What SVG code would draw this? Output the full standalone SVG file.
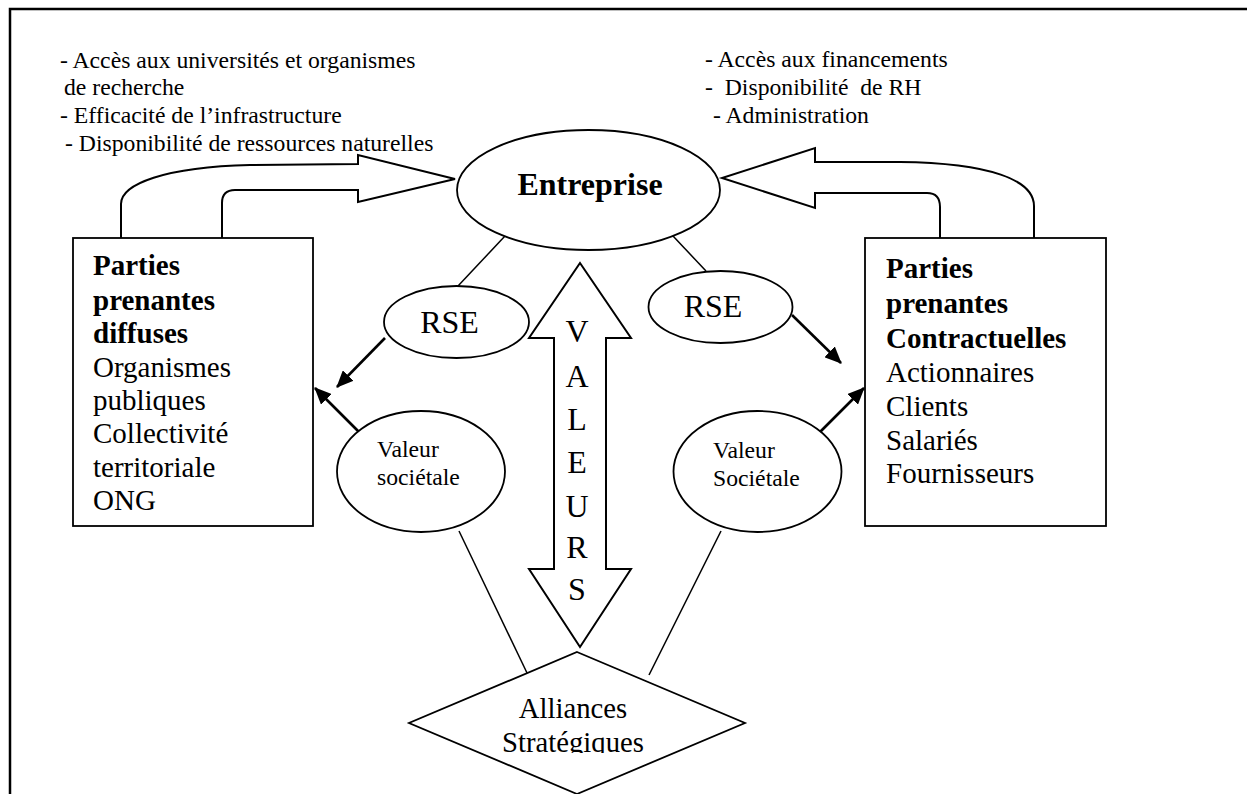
<svg xmlns="http://www.w3.org/2000/svg" width="1247" height="794" viewBox="0 0 1247 794">
<style>
text{font-family:"Liberation Serif","Times New Roman",serif;fill:#000}
.top{font-size:23.7px}
.box{font-size:29px}
.b{font-weight:bold}
.shape{fill:#fff;stroke:#000;stroke-width:1.8}
.ln{fill:none;stroke:#000;stroke-width:1.5}
.arr{fill:none;stroke:#000;stroke-width:2.6}
.blk{fill:#fff;stroke:#000;stroke-width:2}
</style>
<defs>
<marker id="ah" viewBox="0 0 17 15" refX="16" refY="7.5" markerWidth="17" markerHeight="15" markerUnits="userSpaceOnUse" orient="auto">
<path d="M0,0 L17,7.5 L0,15 z" fill="#000"/>
</marker>
<clipPath id="clipAll"><rect x="0" y="0" width="1247" height="753"/></clipPath>
</defs>
<rect width="1247" height="794" fill="#fff"/>
<path d="M10,794 V9 H1247" fill="none" stroke="#000" stroke-width="2.5"/>

<g id="texte-gauche" class="top">
<text x="60" y="68">- Accès aux universités et organismes</text>
<text x="64" y="95">de recherche</text>
<text x="60" y="123">- Efficacité de l’infrastructure</text>
<text x="65" y="151">- Disponibilité de ressources naturelles</text>
</g>
<g id="texte-droite" class="top">
<text x="705" y="67">- Accès aux financements</text>
<text x="705" y="95" xml:space="preserve">-  Disponibilité  de RH</text>
<text x="713" y="123">- Administration</text>
</g>

<g id="connecteurs">
<path class="blk" d="M121,238 V204 C121,184 165,167 250,165 L358,164 V155 L455,179 L358,202 V190 H235 Q222,190 222,203 V238"/>
<path class="blk" d="M1034,238 V206 C1034,180 990,163 900,162 L815,162 V148 L722,178 L815,208 V193 H927 Q940,193 940,207 V238"/>
<line class="ln" x1="505" y1="236" x2="458" y2="286"/>
<line class="ln" x1="673" y1="236" x2="706" y2="271"/>
<line class="ln" x1="459" y1="531" x2="528" y2="675"/>
<line class="ln" x1="721" y1="531" x2="649" y2="675"/>
<line class="arr" x1="385" y1="338" x2="337" y2="387" marker-end="url(#ah)"/>
<line class="arr" x1="362" y1="435" x2="315" y2="388" marker-end="url(#ah)"/>
<line class="arr" x1="792" y1="315" x2="841" y2="363" marker-end="url(#ah)"/>
<line class="arr" x1="817" y1="435" x2="864" y2="388" marker-end="url(#ah)"/>
</g>

<g id="entreprise">
<ellipse class="shape" cx="588.5" cy="190" rx="131.5" ry="60"/>
<text x="590" y="195" text-anchor="middle" class="b" font-size="32">Entreprise</text>
</g>

<g id="pp-diffuses">
<rect class="shape" x="73" y="238" width="240" height="288" stroke-width="2"/>
<g class="box">
<text x="93" y="275" class="b">Parties</text>
<text x="93" y="310" class="b">prenantes</text>
<text x="93" y="343" class="b">diffuses</text>
<text x="93" y="377">Organismes</text>
<text x="93" y="410">publiques</text>
<text x="93" y="443">Collectivité</text>
<text x="93" y="477">territoriale</text>
<text x="93" y="510">ONG</text>
</g>
</g>

<g id="pp-contractuelles">
<rect class="shape" x="865" y="238" width="241" height="288" stroke-width="2"/>
<g class="box">
<text x="886" y="278" class="b">Parties</text>
<text x="886" y="313" class="b">prenantes</text>
<text x="886" y="348" class="b">Contractuelles</text>
<text x="886" y="382">Actionnaires</text>
<text x="886" y="416">Clients</text>
<text x="886" y="450">Salariés</text>
<text x="886" y="483">Fournisseurs</text>
</g>
</g>

<g id="rse-gauche">
<ellipse class="shape" cx="456.5" cy="322" rx="72.5" ry="36"/>
<text x="449.5" y="333" text-anchor="middle" font-size="32">RSE</text>
</g>
<g id="rse-droite">
<ellipse class="shape" cx="720.5" cy="307" rx="72" ry="36"/>
<text x="713" y="317" text-anchor="middle" font-size="32">RSE</text>
</g>

<g id="valeur-gauche">
<ellipse class="shape" cx="421" cy="471.5" rx="84" ry="60.5"/>
<text x="377" y="457" font-size="23.7">Valeur</text>
<text x="377" y="485" font-size="23.7">sociétale</text>
</g>
<g id="valeur-droite">
<ellipse class="shape" cx="757.5" cy="471.5" rx="84" ry="60.5"/>
<text x="713" y="458" font-size="23.7">Valeur</text>
<text x="713" y="486" font-size="23.7">Sociétale</text>
</g>

<g id="valeurs">
<polygon class="blk" points="580,263 631,338 606,338 606,569 631,569 580,647 529,569 554,569 554,338 529,338"/>
<g font-size="32" text-anchor="middle">
<text x="577" y="342">V</text>
<text x="577" y="387">A</text>
<text x="577" y="430">L</text>
<text x="577" y="473">E</text>
<text x="577" y="517">U</text>
<text x="577" y="558">R</text>
<text x="577" y="600">S</text>
</g>
</g>

<g id="alliances">
<polygon class="shape" points="577,652 745,723 577,794 409,723"/>
<g clip-path="url(#clipAll)" font-size="28.7" text-anchor="middle">
<text x="573" y="718">Alliances</text>
<text x="573" y="752">Stratégiques</text>
</g>
</g>
</svg>
